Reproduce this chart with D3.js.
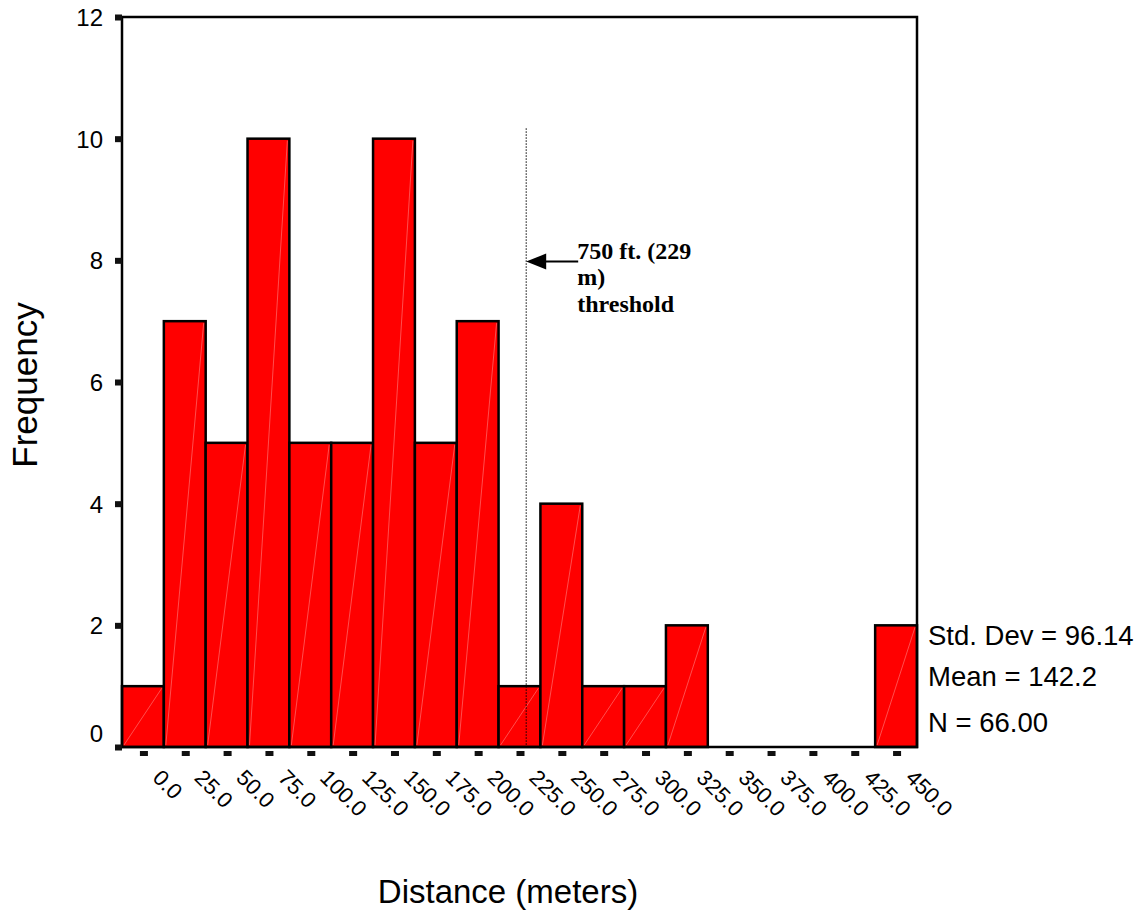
<!DOCTYPE html>
<html>
<head>
<meta charset="utf-8">
<script src="https://cdn.jsdelivr.net/npm/d3@7"></script>
<style>
  body { margin: 0; background: #fff; }
  svg { display: block; font-family: Arial, "Liberation Sans", sans-serif; }
</style>
</head>
<body>
<div id="chart"></div>
<script>
// bin centres (meters) and counts
const binCenters = [0, 25, 50, 75, 100, 125, 150, 175, 200, 225, 250, 275, 300, 325, 350, 375, 400, 425, 450];
const counts = [1, 7, 5, 10, 5, 5, 10, 5, 7, 1, 4, 1, 1, 2, 0, 0, 0, 0, 2];
const yTicks = [0, 2, 4, 6, 8, 10, 12];
const binWidth = 25;
const threshold = 229;
const thresholdLabel = ['750 ft. (229', 'm)', 'threshold'];
const stats = ['Std. Dev = 96.14', 'Mean = 142.2', 'N = 66.00'];

const width = 1143, height = 915;
const margin = {top: 17, right: 226, bottom: 168, left: 122};
const innerW = width - margin.left - margin.right,
      innerH = height - margin.top - margin.bottom;
const font = 'Arial, "Liberation Sans", sans-serif';

const svg = d3.select('#chart').append('svg')
  .attr('width', width)
  .attr('height', height);

const g = svg.append('g')
  .attr('transform', `translate(${margin.left},${margin.top})`);

const x = d3.scaleLinear()
  .domain([binCenters[0] - binWidth / 2, binCenters[binCenters.length - 1] + binWidth / 2])
  .range([0, innerW]);

const y = d3.scaleLinear()
  .domain([0, 12])
  .range([innerH, 0]);

const data = binCenters.map((c, i) => ({c, n: counts[i]}));

// bars
const bars = g.selectAll('.bar')
  .data(data.filter(d => d.n > 0))
  .enter().append('g')
    .attr('class', 'bar');

bars.append('rect')
  .attr('x', d => x(d.c - binWidth / 2))
  .attr('y', d => y(d.n))
  .attr('width', d => x(d.c + binWidth / 2) - x(d.c - binWidth / 2))
  .attr('height', d => innerH - y(d.n))
  .attr('fill', '#ff0000')
  .attr('stroke', '#000')
  .attr('stroke-width', 2.5);

// faint diagonal artefact inside each bar
bars.append('line')
  .attr('x1', d => x(d.c - binWidth / 2) + 2)
  .attr('y1', innerH - 2)
  .attr('x2', d => x(d.c + binWidth / 2) - 2)
  .attr('y2', d => y(d.n) + 2)
  .attr('stroke', '#ff7070')
  .attr('stroke-width', 0.7);

// frame
g.append('rect')
  .attr('width', innerW)
  .attr('height', innerH)
  .attr('fill', 'none')
  .attr('stroke', '#000')
  .attr('stroke-width', 2.5);

// y axis
const yAxis = g.append('g')
  .call(d3.axisLeft(y).tickValues(yTicks).tickSize(0).tickPadding(19).tickFormat(d3.format('d')));
yAxis.select('.domain').remove();
yAxis.selectAll('text')
  .attr('font-size', 24)
  .attr('font-family', font)
  .attr('fill', '#000')
  .attr('dy', '0.36em')
  .attr('y', d => d === 0 ? -14 : 0);
yAxis.selectAll('.tick').append('rect')
  .attr('x', -7).attr('y', -3)
  .attr('width', 7).attr('height', 6)
  .attr('fill', '#111');

// x axis
const xAxis = g.append('g')
  .attr('transform', `translate(0,${innerH})`)
  .call(d3.axisBottom(x).tickValues(binCenters).tickSize(0).tickFormat(d3.format('.1f')));
xAxis.select('.domain').remove();
xAxis.selectAll('.tick').append('rect')
  .attr('x', -3.5).attr('y', 4)
  .attr('width', 8).attr('height', 5)
  .attr('fill', '#111');
xAxis.selectAll('text')
  .attr('font-size', 22)
  .attr('font-family', font)
  .attr('fill', '#000')
  .attr('text-anchor', 'start')
  .attr('dy', null)
  .attr('y', 0)
  .attr('transform', 'translate(8,32) rotate(45)');

// threshold line and annotation
const tx = x(threshold);
g.append('line')
  .attr('x1', tx).attr('x2', tx)
  .attr('y1', y(10.17)).attr('y2', innerH)
  .attr('stroke', '#000')
  .attr('stroke-width', 1)
  .attr('stroke-dasharray', '1.5,1.5');

const ay = y(7.98);
g.append('line')
  .attr('x1', tx + 18).attr('x2', tx + 52)
  .attr('y1', ay).attr('y2', ay)
  .attr('stroke', '#000')
  .attr('stroke-width', 2);
g.append('path')
  .attr('d', `M${tx},${ay} L${tx + 20},${ay - 8} L${tx + 20},${ay + 8} Z`)
  .attr('fill', '#000');

g.append('text')
  .attr('x', tx + 51)
  .attr('y', ay - 3)
  .attr('font-family', '"Liberation Serif", "Times New Roman", serif')
  .attr('font-weight', 'bold')
  .attr('font-size', 24)
  .selectAll('tspan')
  .data(thresholdLabel)
  .enter().append('tspan')
    .attr('x', tx + 51)
    .attr('dy', (d, i) => i === 0 ? 0 : 26.5)
    .text(d => d);

// summary statistics
const statsY = [645, 686, 732];
svg.append('g')
  .selectAll('text')
  .data(stats)
  .enter().append('text')
    .attr('x', margin.left + innerW + 11)
    .attr('y', (d, i) => statsY[i])
    .attr('font-size', 27.5)
    .attr('fill', '#000')
    .text(d => d);

// axis titles
svg.append('text')
  .attr('x', 508)
  .attr('y', 903)
  .attr('text-anchor', 'middle')
  .attr('font-size', 33)
  .text('Distance (meters)');

svg.append('text')
  .attr('transform', `translate(37,385) rotate(-90)`)
  .attr('text-anchor', 'middle')
  .attr('font-size', 35)
  .text('Frequency');
</script>
</body>
</html>
